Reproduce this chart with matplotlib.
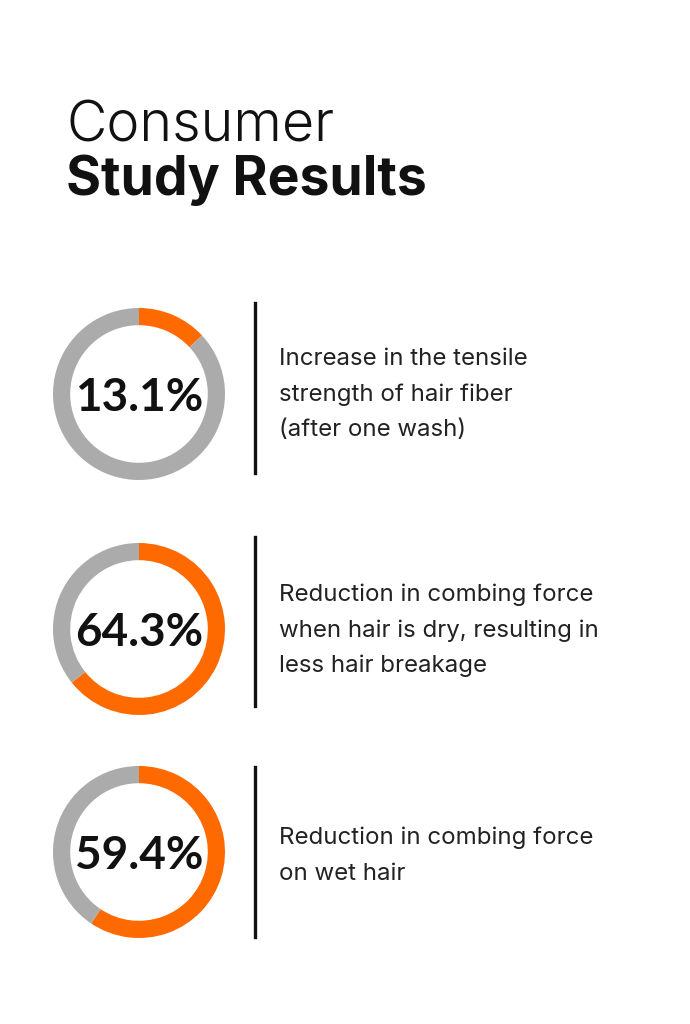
import matplotlib
matplotlib.use("Agg")
import matplotlib.pyplot as plt

# Data
values = [13.1, 64.3, 59.4]
labels = ["13.1%", "64.3%", "59.4%"]
descriptions = [
    "Increase in the tensile\nstrength of hair fiber\n(after one wash)",
    "Reduction in combing force\nwhen hair is dry, resulting in\nless hair breakage",
    "Reduction in combing force\non wet hair",
]
title_light = "Consumer"
title_bold = "Study Results"

ORANGE = "#FF6A00"
GRAY = "#ABABAB"

W, H = 690, 1024
fig = plt.figure(figsize=(W / 100, H / 100), dpi=100)
fig.patch.set_facecolor("white")


def fx(x):
    return x / W


def fy(y):
    return 1 - y / H


fam = ["Inter", "DejaVu Sans"]
num_fam = ["Lato", "DejaVu Sans"]

fig.text(fx(66), fy(142), title_light, fontsize=40, fontweight=300,
         family=fam, ha="left", va="baseline", color="#111111")
fig.text(fx(66), fy(195), title_bold, fontsize=38.5, fontweight=700,
         family=fam, ha="left", va="baseline", color="#111111")

centers_y = [394, 629, 852]
cx = 139
r = 86
line_spans = [(303, 473), (537, 706), (767, 937)]
first_baselines = [365, 601, 844]
line_step = 35.5

for i, (v, lab, desc, cy) in enumerate(zip(values, labels, descriptions, centers_y)):
    ax = fig.add_axes([fx(cx - r), fy(cy + r), 2 * r / W, 2 * r / H])
    ax.pie([v, 100 - v], colors=[ORANGE, GRAY], startangle=90,
           counterclock=False, radius=1.0,
           wedgeprops=dict(width=0.2, linewidth=0))
    ax.set_xlim(-1, 1)
    ax.set_ylim(-1, 1)
    ax.set_aspect("auto")
    ax.axis("off")
    fig.text(fx(cx), fy(cy + 17), lab, ha="center", va="baseline", fontsize=33,
             fontweight=700, family=num_fam, color="#111111")

    y0, y1 = line_spans[i]
    fig.add_artist(plt.Line2D([fx(255), fx(255)], [fy(y0), fy(y1)],
                              color="#111111", linewidth=2.4,
                              transform=fig.transFigure))
    for k, line in enumerate(desc.split("\n")):
        fig.text(fx(279), fy(first_baselines[i] + k * line_step), line,
                 fontsize=17.3, fontweight=400, family=fam, ha="left",
                 va="baseline", color="#222222")

fig.savefig("out.png", dpi=100, facecolor="white")
